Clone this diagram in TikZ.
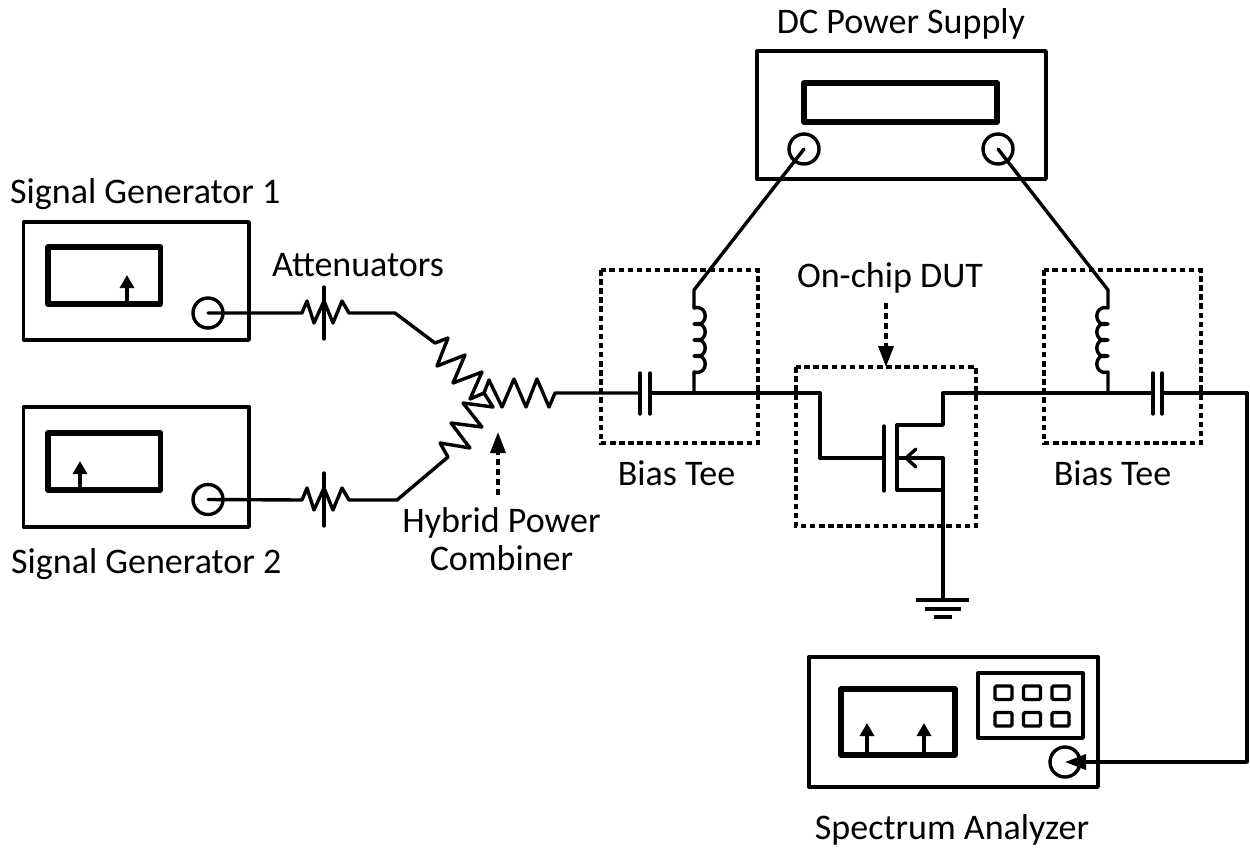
\documentclass[tikz,border=0pt]{standalone}
\usepackage{fontspec}
\setmainfont{Carlito}
\usetikzlibrary{arrows.meta}
\tikzset{
  wire/.style={line width=3.4pt,line join=round,line cap=round},
  chassis/.style={draw,line width=3.4pt,line join=round},
  screen/.style={draw,line width=5.5pt,line join=round},
  keypad/.style={draw,line width=3.4pt,line join=round},
  keybtn/.style={draw,line width=3.4pt,rounded corners=1.5pt},
  port/.style={draw,circle,line width=3.4pt,inner sep=0pt,minimum size=30pt},
  dashbox/.style={draw,line width=3.4pt,dash pattern=on 5.5pt off 3.6pt},
  label/.style={font=\fontsize{36}{40}\selectfont,inner sep=0pt},
  peak/.style={line width=3.4pt,-{Triangle[width=14pt,length=13pt]}},
  solidtip/.style={line width=3.4pt,-{Triangle[width=15pt,length=21pt]}},
  dashtip/.style={line width=3.4pt,dash pattern=on 6pt off 4pt,-{Triangle[width=15pt,length=21pt,sep=0pt]}}
}
\begin{document}
\begin{tikzpicture}[x=1pt,y=-1pt]
\useasboundingbox (0,0) rectangle (1250,847);
% instruments
\draw[chassis] (23.5,222) rectangle (249,340);
\draw[screen] (48,247) rectangle (160.5,304);
\node[port] (sgA) at (208,313) {};
\coordinate (sgAbase) at (127,304); \coordinate (sgAtip) at (127,275);
\draw[peak] (sgAbase) -- (sgAtip);

\draw[chassis] (23.5,407) rectangle (249,527);
\draw[screen] (48,433) rectangle (160.5,490);
\node[port] (sgB) at (208,499.5) {};
\coordinate (sgBbase) at (80,490); \coordinate (sgBtip) at (80,461);
\draw[peak] (sgBbase) -- (sgBtip);

\draw[chassis] (757,51) rectangle (1046,179);
\draw[screen] (804,83) rectangle (997,122);
\node[port] (dcL) at (804,149) {};
\node[port] (dcR) at (998,149) {};

\draw[chassis] (809,657) rectangle (1098,787);
\draw[screen] (841,689) rectangle (955,755);
\draw[keypad] (978,673) rectangle (1083,738);
\foreach \x in {995,1023.5,1052} \foreach \y in {686,712.5} {
  \draw[keybtn] (\x,\y) rectangle +(17,13.5);
}
\coordinate (saAbase) at (867,755); \coordinate (saAtip) at (867,723);
\coordinate (saBbase) at (924,755); \coordinate (saBtip) at (924,723);
\draw[peak] (saAbase) -- (saAtip);
\draw[peak] (saBbase) -- (saBtip);
\node[port] (saIn) at (1065,762) {};

% dashed boxes
\draw[dashbox] (601,270) rectangle (758,443);
\draw[dashbox] (1044,270) rectangle (1201,443);
\draw[dashbox] (796,367) rectangle (976,526);

% named junctions
\coordinate (attA) at (302,313);
\coordinate (attAend) at (349,313);
\coordinate (attB) at (302,500);
\coordinate (attBend) at (349,500);
\coordinate (capLa) at (640,393);
\coordinate (capLb) at (650,393);
\coordinate (capRa) at (1153,393);
\coordinate (capRb) at (1162,393);
\coordinate (jL) at (694,393);
\coordinate (jR) at (1108,393);
\coordinate (bendL) at (694,290);
\coordinate (bendR) at (1108,290);
\coordinate (gate) at (884,458);
\coordinate (drain) at (897,425);
\coordinate (source) at (897,490);
\coordinate (body) at (943,458);
\coordinate (gnd) at (943,600);
\coordinate (corner) at (1247,393);

% attenuators
\draw[wire] (sgA.center) -- (attA) -- (307,301) -- (314,323) -- (324,301) -- (333,323) -- (342,301) -- (attAend)
  -- (395,313) -- (435,343) -- (448,338) -- (437,366) -- (465,355) -- (453,383) -- (482,372) -- (470,399) -- (484,393) -- (493,407);
\draw[wire] (324,287) -- (324,339);
\draw[wire] (sgB.center) -- (attB) -- (307,488) -- (314,510) -- (324,488) -- (333,510) -- (342,488) -- (attBend)
  -- (397,500) -- (448,457) -- (440,443) -- (470,448) -- (451,423) -- (482,427) -- (463,403) -- (493,407);
\draw[wire] (324,473) -- (324,526);
% output resistor
\draw[wire] (484,393) -- (489,380) -- (502,407) -- (514,379) -- (526,407) -- (537,379) -- (549,407) -- (555,393) -- (capLa);
% capacitors
\draw[wire] (640,373) -- (640,414);
\draw[wire] (650,373) -- (650,414);
\draw[wire] (1153,373) -- (1153,414);
\draw[wire] (1162,373) -- (1162,414);
% main line, gate side
\draw[wire] (capLb) -- (820,393) -- (820,458) -- (gate);
% inductors
\draw[wire] (dcL.center) -- (bendL) -- (694,308)
  .. controls (709,304) and (709,328) .. (694,324)
  .. controls (709,320) and (709,344) .. (694,340)
  .. controls (709,336) and (709,360) .. (694,356)
  .. controls (709,352) and (709,376) .. (694,372)
  -- (jL);
\draw[wire] (dcR.center) -- (bendR) -- (1108,308)
  .. controls (1093,304) and (1093,328) .. (1108,324)
  .. controls (1093,320) and (1093,344) .. (1108,340)
  .. controls (1093,336) and (1093,360) .. (1108,356)
  .. controls (1093,352) and (1093,376) .. (1108,372)
  -- (jR);
% transistor
\draw[wire] (884,426) -- (884,491);
\draw[wire] (897,490) -- (897,425);
\draw[wire] (drain) -- (943,425) -- (943,393) -- (capRa);
\draw[wire] (source) -- (943,490);
\draw[wire] (body) -- (897,458);
\draw[wire] (916,449) -- (906,458) -- (916,467);
\draw[wire] (943,458) -- (gnd);
\draw[wire,line cap=butt] (916,600) -- (969,600);
\draw[wire,line cap=butt] (925,609) -- (961,609);
\draw[wire,line cap=butt] (934,617) -- (952,617);
% output to analyzer
\draw[wire] (capRb) -- (corner) -- (1247,762);
\draw[solidtip] (1247,762) -- (saIn.center);
% dashed pointers
\coordinate (dutFrom) at (886,303); \coordinate (dutTo) at (886,367);
\coordinate (hybFrom) at (498,495); \coordinate (hybTo) at (498,432);
\draw[dashtip] (dutFrom) -- (dutTo);
\draw[dashtip] (hybFrom) -- (hybTo);
% labels
\node[label,anchor=base] (tDC) at (901,33) {DC Power Supply};
\node[label,anchor=base west] (tSGA) at (10,203.5) {Signal Generator 1};
\node[label,anchor=base west] (tSGB) at (11,573) {Signal Generator 2};
\node[label,anchor=base] (tAtt) at (358,276) {Attenuators};
\node[label,anchor=base] (tHyb) at (501.5,532) {Hybrid Power};
\node[label,anchor=base] (tCom) at (501.5,570) {Combiner};
\node[label,anchor=base] (tTeeL) at (676.5,485) {Bias Tee};
\node[label,anchor=base] (tTeeR) at (1112.5,485) {Bias Tee};
\node[label,anchor=base] (tDUT) at (890,287) {On-chip DUT};
\node[label,anchor=base] (tSA) at (952,839) {Spectrum Analyzer};
\end{tikzpicture}
\end{document}
